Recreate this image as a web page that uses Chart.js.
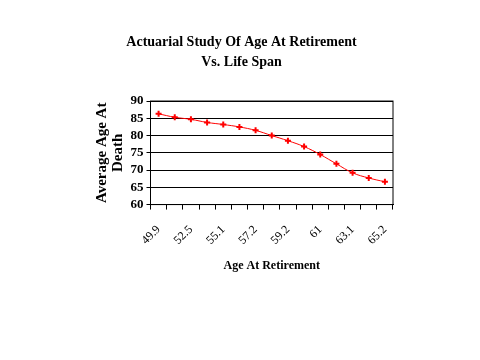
<!DOCTYPE html>
<html>
<head>
<meta charset="utf-8">
<script src="https://cdn.jsdelivr.net/npm/chart.js@4"></script>
<style>
  html, body { margin: 0; padding: 0; background: #fff; }
  canvas { display: block; }
</style>
</head>
<body>
<canvas id="chart" width="480" height="360"></canvas>
<script>
// age at retirement (every other label printed on the axis)
const retireAges = ['49.9', '51.2', '52.5', '53.8', '55.1', '56.2', '57.2', '58.2',
                    '59.2', '60.1', '61', '62.1', '63.1', '64.2', '65.2'];
// average age at death
const deathAges = [86.3, 85.3, 84.7, 83.8, 83.2, 82.5, 81.5, 80.0,
                   78.5, 76.8, 74.5, 71.8, 69.2, 67.7, 66.6];
const yTicks = [60, 65, 70, 75, 80, 85, 90];

const serif = "'Liberation Serif', 'Times New Roman', serif";

const ctx = document.getElementById('chart').getContext('2d');
new Chart(ctx, {
    type: 'line',
    data: {
        labels: retireAges,
        datasets: [{
            data: deathAges,
            borderColor: '#ff0000',
            backgroundColor: '#ff0000',
            borderWidth: 1,
            tension: 0.4,
            pointStyle: 'cross',
            pointRadius: 3,
            pointBorderWidth: 2,
            fill: false
        }]
    },
    options: {
        responsive: false,
        animation: false,
        layout: { padding: { left: 90, right: 87, top: 32, bottom: 87 } },
        plugins: {
            legend: { display: false },
            tooltip: { enabled: false },
            title: {
                display: true,
                text: ['Actuarial Study Of Age At Retirement', 'Vs. Life Span'],
                color: '#000',
                font: { family: serif, size: 14, weight: 'bold', lineHeight: 1.43 },
                padding: { top: 0, bottom: 29 }
            }
        },
        scales: {
            x: {
                offset: true,
                grid: { offset: true, drawOnChartArea: false, drawTicks: true, tickLength: 5, color: '#000' },
                border: { color: '#000', width: 1 },
                ticks: {
                    autoSkip: false,
                    minRotation: 45,
                    maxRotation: 45,
                    padding: 13,
                    color: '#000',
                    font: { family: serif, size: 12 },
                    callback: (v, i) => (i % 2 === 0 ? retireAges[i] : '')
                },
                title: {
                    display: true,
                    text: 'Age At Retirement',
                    color: '#000',
                    font: { family: serif, size: 12, weight: 'bold' },
                    padding: { top: -2, bottom: 0 }
                }
            },
            y: {
                min: 60,
                max: 90,
                afterBuildTicks: axis => { axis.ticks = yTicks.map(v => ({ value: v })); },
                grid: { color: '#000', tickLength: 4 },
                border: { color: '#000', width: 1 },
                ticks: {
                    autoSkip: false,
                    color: '#000',
                    font: { family: serif, size: 13, weight: 'bold' },
                    padding: 3
                },
                title: {
                    display: true,
                    text: ['Average Age At', 'Death'],
                    color: '#000',
                    font: { family: serif, size: 15, weight: 'bold', lineHeight: 1.05 },
                    padding: { bottom: 2 }
                }
            }
        }
    },
    plugins: [{
        id: 'plotBorder',
        afterDraw(chart) {
            const a = chart.chartArea, c = chart.ctx;
            c.save();
            c.strokeStyle = '#000';
            c.lineWidth = 1;
            c.strokeRect(a.left, a.top, a.right - a.left, a.bottom - a.top);
            c.restore();
        }
    }]
});
</script>
</body>
</html>
